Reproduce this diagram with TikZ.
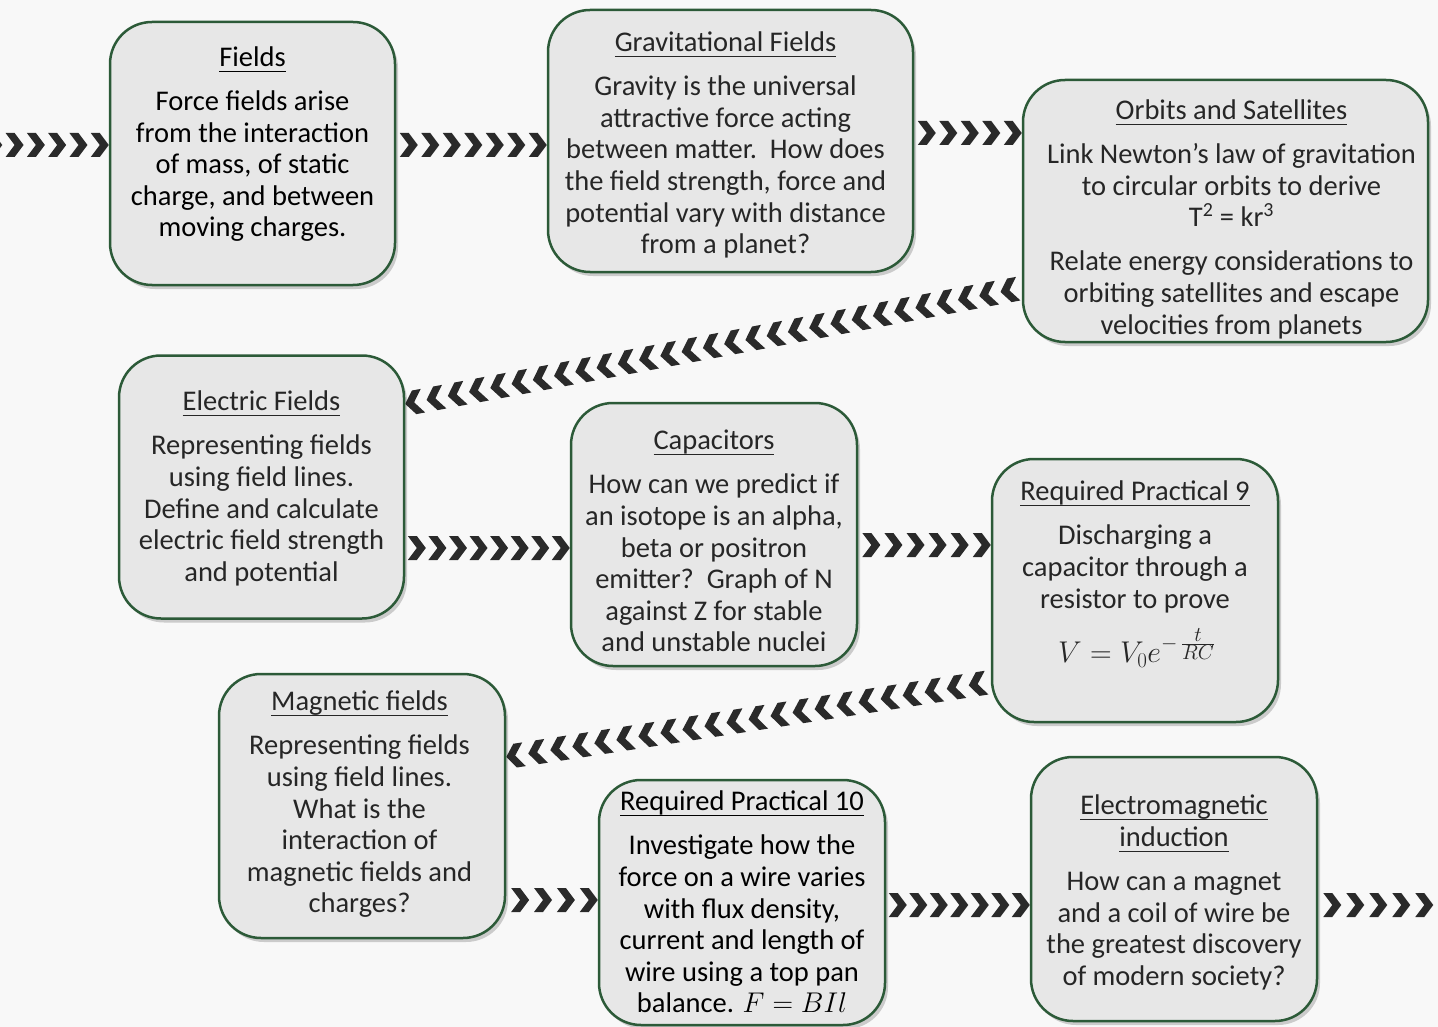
\RequirePackage{fix-cm}
\documentclass[tikz,border=0pt]{standalone}
\usepackage{fontspec}
\setmainfont{Carlito}
\newsavebox\hulbox
\newcommand\hul[1]{\sbox\hulbox{#1}\rlap{\rule[-5.4pt]{\wd\hulbox}{1.3pt}}\usebox\hulbox}
\usetikzlibrary{shadows,calc}
\definecolor{boxgrey}{HTML}{E7E7E7}
\definecolor{boxgreen}{HTML}{2C5A38}
\definecolor{chevcol}{HTML}{2A2A2A}
\definecolor{bgcol}{HTML}{F8F8F8}
\pgfdeclarelayer{bg}
\pgfdeclarelayer{arrows}
\pgfsetlayers{bg,arrows,main}
\newcommand\chevchain[3]{%
  \path (#1) -- (#2) foreach \k [evaluate=\k as \chp using \k/#3] in {1,...,#3} {pic[pos=\chp, sloped, allow upside down]{chev}};}
\begin{document}
\begin{tikzpicture}[x=1pt,y=-1pt,
  box/.style={draw=boxgreen, line width=2.5pt, fill=boxgrey, rounded corners=42pt, inner sep=0pt,
    minimum width=286pt, minimum height=263pt,
    drop shadow={shadow xshift=3pt, shadow yshift=-4pt, opacity=0.18, fill=black}},
  txt/.style={align=center, inner sep=0pt, anchor=north, text=black!85,
    font=\fontsize{28.5}{31.6}\selectfont},
  dark/.style={text=black},
  chev/.pic={\fill[chevcol] (-18,-12) -- (-9,-12) -- (0,0) -- (-9,12) -- (-18,12) -- (-9,0) -- cycle;}
]
\useasboundingbox (0,0) rectangle (1438,1027);
\begin{pgfonlayer}{bg}
\fill[bgcol] (0,0) rectangle (1438,1027);
\end{pgfonlayer}

% boxes
\node[box, minimum width=285pt] (fields) at (252.5,153.5) {};
\node[box, minimum width=365pt, minimum height=262pt] (grav) at (730.5,141) {};
\node[box, minimum width=405pt, minimum height=262pt] (orbits) at (1225.5,211) {};
\node[box, minimum width=285pt] (electric) at (261.5,487) {};
\node[box] (capacitors) at (714,534.5) {};
\node[box] (rp9) at (1135,590.5) {};
\node[box, minimum height=264pt] (magnetic) at (362,806) {};
\node[box, minimum height=245pt] (rp10) at (742,902.5) {};
\node[box, minimum height=264pt] (emi) at (1174,889) {};

% texts
\node[txt, dark] (fieldsT) at ([yshift=-23.4pt]fields.north) {\strut\hul{Fields}\\[12.4pt]
  Force fields arise\\from the interaction\\of mass, of static\\charge, and between\\moving charges.};
\node[txt] (gravT) at ([xshift=-5pt,yshift=-20.6pt]grav.north) {\strut\hul{Gravitational Fields}\\[12.4pt]
  Gravity is the universal\\attractive force acting\\between matter.\ \ How does\\the field strength, force and\\potential vary with distance\\from a planet?};
\node[txt] (orbitsT) at ([xshift=6pt,yshift=-18.6pt]orbits.north) {\strut\hul{Orbits and Satellites}\\[12.4pt]
  Link Newton’s law of gravitation\\to circular orbits to derive\\T\textsuperscript{2} = kr\textsuperscript{3}\\[12.4pt]
  Relate energy considerations to\\orbiting satellites and escape\\velocities from planets};
\node[txt] (electricT) at ([yshift=-34.4pt]electric.north) {\strut\hul{Electric Fields}\\[12.4pt]
  Representing fields\\using field lines.\\Define and calculate\\electric field strength\\and potential};
\node[txt] (capacitorsT) at ([yshift=-25.9pt]capacitors.north) {\strut\hul{Capacitors}\\[12.4pt]
  How can we predict if\\an isotope is an alpha,\\beta or positron\\emitter?\ \ Graph of N\\against Z for stable\\and unstable nuclei};
\node[txt] (rp9T) at ([yshift=-20.9pt]rp9.north) {\strut\hul{Required Practical 9}\\[12.4pt]
  Discharging a\\capacitor through a\\resistor to prove};
\node[inner sep=0pt, anchor=base, text=black!85, font=\fontsize{30}{34}\selectfont] (rp9M) at ([xshift=2pt,yshift=-72pt]rp9.center)
  {$\displaystyle V=V_0e^{-\,\frac{\scriptstyle t}{\scriptstyle RC}}$};
\node[txt] (magneticT) at ([xshift=-2.5pt,yshift=-15.9pt]magnetic.north) {\strut\hul{Magnetic fields}\\[12.4pt]
  Representing fields\\using field lines.\\What is the\\interaction of\\magnetic fields and\\charges?};
\node[txt, dark] (rp10T) at ([yshift=-9.9pt]rp10.north) {\strut\hul{Required Practical 10}\\[12.4pt]
  Investigate how the\\force on a wire varies\\with flux density,\\current and length of\\wire using a top pan\\balance. $F=BIl$};
\node[txt] (emiT) at ([yshift=-36.9pt]emi.north) {\strut\hul{Electromagnetic}\\\hul{induction}\\[12.4pt]
  How can a magnet\\and a coil of wire be\\the greatest discovery\\of modern society?};

% chevron connectors
\begin{pgfonlayer}{arrows}
\coordinate (a0s) at (-19,145);
\chevchain{a0s}{fields.west |- a0s}{6}
\coordinate (a1s) at ([yshift=8.5pt]fields.east);
\chevchain{a1s}{grav.west |- a1s}{7}
\coordinate (a2s) at ([yshift=8pt]grav.east);
\chevchain{a2s}{orbits.west |- a2s}{5}
\coordinate (a3s) at ([yshift=-77pt]orbits.west);
\coordinate (a3e) at ([yshift=83pt]electric.east);
\chevchain{a3s}{a3e}{29}
\coordinate (a4s) at ([yshift=-61pt]electric.east);
\chevchain{a4s}{capacitors.west |- a4s}{8}
\coordinate (a5s) at ([yshift=-10.5pt]capacitors.east);
\chevchain{a5s}{rp9.west |- a5s}{6}
\coordinate (a6s) at ([yshift=-91.5pt]rp9.west);
\coordinate (a6e) at ([yshift=49pt]magnetic.east);
\chevchain{a6s}{a6e}{22}
\coordinate (a7s) at ([yshift=-94pt]magnetic.east);
\chevchain{a7s}{rp10.west |- a7s}{4}
\coordinate (a8s) at ([yshift=-2.5pt]rp10.east);
\chevchain{a8s}{emi.west |- a8s}{7}
\coordinate (a9s) at ([yshift=-16pt]emi.east);
\coordinate (a9e) at ([xshift=138pt]a9s);
\chevchain{a9s}{a9e}{6}
\end{pgfonlayer}
\end{tikzpicture}
\end{document}
